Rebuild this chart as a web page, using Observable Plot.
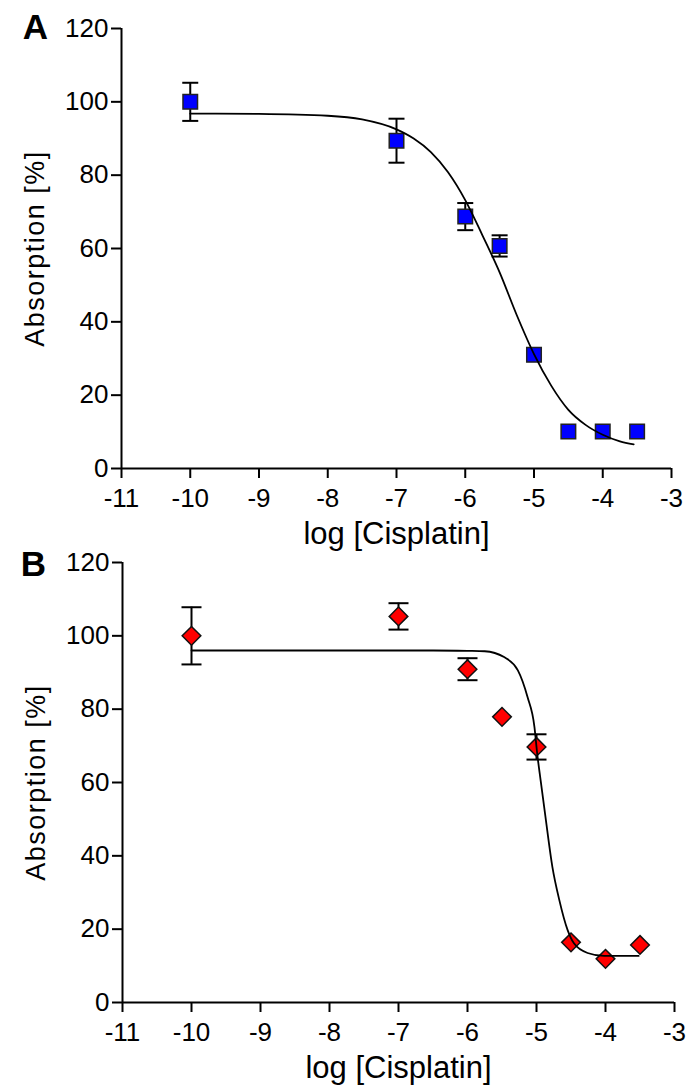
<!DOCTYPE html>
<html>
<head>
<meta charset="utf-8">
<script src="https://cdn.jsdelivr.net/npm/d3@7"></script>
<script src="https://cdn.jsdelivr.net/npm/@observablehq/plot@0.6"></script>
<style>
  html, body { margin: 0; padding: 0; background: white; overflow: hidden; }
  #wrap { position: relative; width: 688px; height: 1091px; }
  #wrap > div { position: absolute; left: 0; }
</style>
</head>
<body>
<div id="wrap"><div id="panelA" style="top:0"></div><div id="panelB" style="top:534px"></div></div>
<script>
// ---- data ----
const logConc = [-10, -7, -6, -5.5, -5, -4.5, -4, -3.5];

const absA = [100, 89.4, 68.7, 60.7, 31.0, 10.1, 10.1, 10.1];
const errA = [5.2, 6.0, 3.7, 2.9, null, null, null, null];

const absB = [100, 105.3, 90.9, 77.9, 69.7, 16.4, 11.9, 15.7];
const errB = [7.8, 3.6, 3.0, null, 3.45, null, null, null];

// fitted curves
const fitXA = [-10, -9, -8, -7.5, -7, -6.75, -6.5, -6.25, -6, -5.75, -5.5, -5.25, -5, -4.75, -4.5, -4.25, -4, -3.75, -3.55];
const fitYA = [96.8, 96.7, 96.2, 95.2, 92.5, 90.0, 86.3, 80.8, 73.2, 63.6, 53.5, 41.8, 31.2, 22.6, 16.0, 11.9, 9.2, 7.4, 6.6];

const fitXB = [-10, -8, -6.5, -6, -5.75, -5.47, -5.27, -5.13, -5.03, -4.99, -4.94, -4.87, -4.77, -4.67, -4.55, -4.46, -4.26, -4.02, -3.52];
const fitYB = [96.0, 96.0, 96.0, 95.9, 95.8, 94.2, 90.6, 83.3, 75.2, 67.9, 60.6, 50.6, 37.0, 28.0, 19.8, 16.2, 13.5, 12.7, 12.7];

const xTicks = [-11, -10, -9, -8, -7, -6, -5, -4, -3];
const yTicks = [0, 20, 40, 60, 80, 100, 120];
const xTitle = "log [Cisplatin]";
const yTitle = "Absorption [%]";

// ---- helpers ----
const capSymbol = {
  draw(ctx, size) {
    const w = Math.sqrt(size / Math.PI);
    ctx.moveTo(-w, 0);
    ctx.lineTo(w, 0);
  }
};

function rows(xs, ys, es) {
  return xs.map((x, i) => ({x, y: ys[i], e: es ? es[i] : null}));
}

function panel({letter, ys, es, fx, fy, symbol, fill, stroke, r, capR, marginLeft, marginRight, letterDx, letterDy}) {
  const pts = rows(logConc, ys, es);
  const withErr = pts.filter(d => d.e != null);
  const caps = withErr.flatMap(d => [{x: d.x, y: d.y + d.e}, {x: d.x, y: d.y - d.e}]);
  const fit = rows(fx, fy);
  const svg = Plot.plot({
    width: 688,
    height: 557,
    marginLeft,
    marginRight,
    marginTop: 28,
    marginBottom: 89,
    x: {domain: [-11, -3]},
    y: {domain: [0, 120]},
    style: {background: "transparent", overflow: "visible", fontFamily: "'Liberation Sans', Arial, sans-serif", color: "black"},
    marks: [
      Plot.axisY(yTicks, {tickSize: 10, tickPadding: 3, fontSize: 26, strokeWidth: 2, label: null, tickFormat: d => `${d}`}),
      Plot.axisX(xTicks, {tickSize: 10, tickPadding: 10, fontSize: 26, strokeWidth: 2, label: null, tickFormat: d => `${d}`}),
      Plot.ruleX([-11], {strokeWidth: 2}),
      Plot.ruleY([0], {strokeWidth: 2}),
      Plot.ruleX(withErr, {x: "x", y1: d => d.y - d.e, y2: d => d.y + d.e, strokeWidth: 2, stroke: "black"}),
      Plot.dot(caps, {x: "x", y: "y", symbol: capSymbol, r: capR, fill: "none", stroke: "black", strokeWidth: 2}),
      Plot.dot(pts, {x: "x", y: "y", symbol, r, fill, stroke, strokeWidth: 1.5}),
      Plot.line(fit, {x: "x", y: "y", curve: "monotone-x", stroke: "black", strokeWidth: 1.8}),
      Plot.text([xTitle], {frameAnchor: "bottom", textAnchor: "middle", lineAnchor: "middle", dy: 66, fontSize: 31}),
      Plot.text([yTitle], {frameAnchor: "left", textAnchor: "middle", lineAnchor: "middle", rotate: -90, dx: -86, fontSize: 27}),
      Plot.text([letter], {frameAnchor: "top-left", textAnchor: "middle", lineAnchor: "middle", dx: letterDx, dy: letterDy, fontSize: 35, fontWeight: "bold"})
    ]
  });
  d3.select(svg).selectAll("text").filter(function() { return this.textContent === yTitle; })
    .style("letter-spacing", "1.5px");
  return svg;
}

document.getElementById("panelA").appendChild(panel({
  letter: "A", ys: absA, es: errA, fx: fitXA, fy: fitYA,
  symbol: "square", fill: "#0000ff", stroke: "#222", r: 8.2, capR: 8,
  marginLeft: 121, marginRight: 17, letterDx: -86, letterDy: -1
}));
document.getElementById("panelB").appendChild(panel({
  letter: "B", ys: absB, es: errB, fx: fitXB, fy: fitYB,
  symbol: "diamond2", fill: "#ff0000", stroke: "#111", r: 8.4, capR: 10,
  marginLeft: 122, marginRight: 14, letterDx: -89, letterDy: 2
}));
</script>
</body>
</html>
